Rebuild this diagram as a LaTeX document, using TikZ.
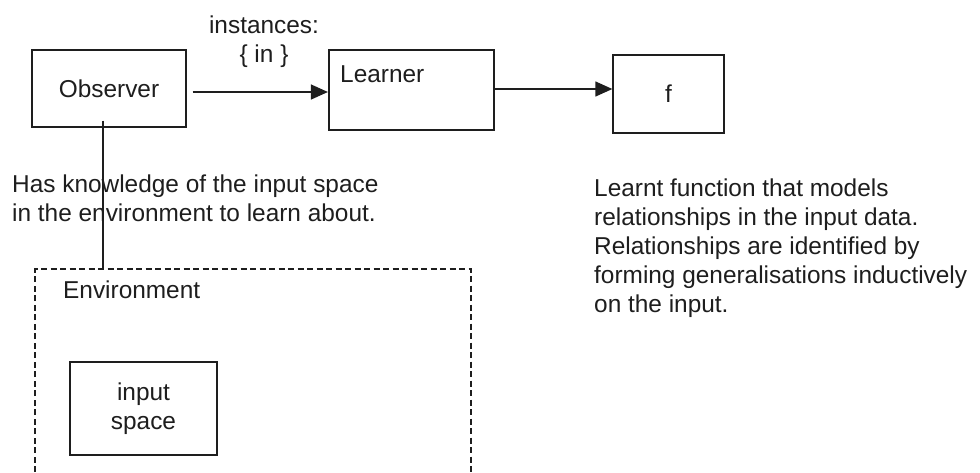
\documentclass[tikz,border=0pt]{standalone}
\usepackage{fontspec}
\setmainfont{Liberation Sans}
\usetikzlibrary{arrows.meta}
\definecolor{ink}{HTML}{1E1E1E}
\begin{document}
\begin{tikzpicture}[x=1pt,y=-1pt,
  every node/.style={font=\fontsize{24.4}{29}\selectfont, text=ink},
  box/.style={draw=ink, line width=1.3pt, inner sep=0pt},
  txt/.style={inner sep=0pt, align=left},
  arr/.style={draw=ink, line width=1.3pt, -{Triangle[length=17pt,width=15pt]}}]
\useasboundingbox[fill=white] (0,0) rectangle (980,472);

% boxes
\node[box, minimum width=154pt, minimum height=77pt] (obs) at (109,88.5) {Observer};
\node[box, line width=2.2pt, minimum width=165pt, minimum height=80pt] (learner) at (411.5,90) {};
\node[txt, anchor=base west] (learnerlbl) at (340,82) {Learner};
\node[box, minimum width=111pt, minimum height=78pt] (f) at (668.5,94) {f};

% edge label (base = last line)
\node[txt, anchor=base, align=center] (inst) at (264,62) {instances:\\\{ in \}};

% arrows
\draw[arr] ([xshift=6pt]obs.east |- 0,92) -- (learner.west |- 0,92);
\draw[arr] (learner.east |- 0,89) -- (f.west |- 0,89);

% descriptions (base = last line)
\node[txt, anchor=base west] (know) at (12,221) {Has knowledge of the input space\\in the environment to learn about.};
\node[txt, anchor=base west] (learnt) at (594,312) {Learnt function that models\\relationships in the input data.\\Relationships are identified by\\forming generalisations inductively\\on the input.};

% environment
\draw[draw=ink, line width=1.5pt, dash pattern=on 6pt off 3.5pt] (35,472) -- (35,269) -- (471,269) -- (471,472);
\coordinate (envtop) at (103,269);
\node[txt, anchor=base west] (envlbl) at (63,298) {Environment};
\node[box, minimum width=147pt, minimum height=93pt, align=center] (inp) at (143.5,408.5) {input\\space};

% observer link
\draw[draw=ink, line width=1.3pt] ([yshift=7pt]obs.south -| envtop) -- (envtop);
\end{tikzpicture}
\end{document}
